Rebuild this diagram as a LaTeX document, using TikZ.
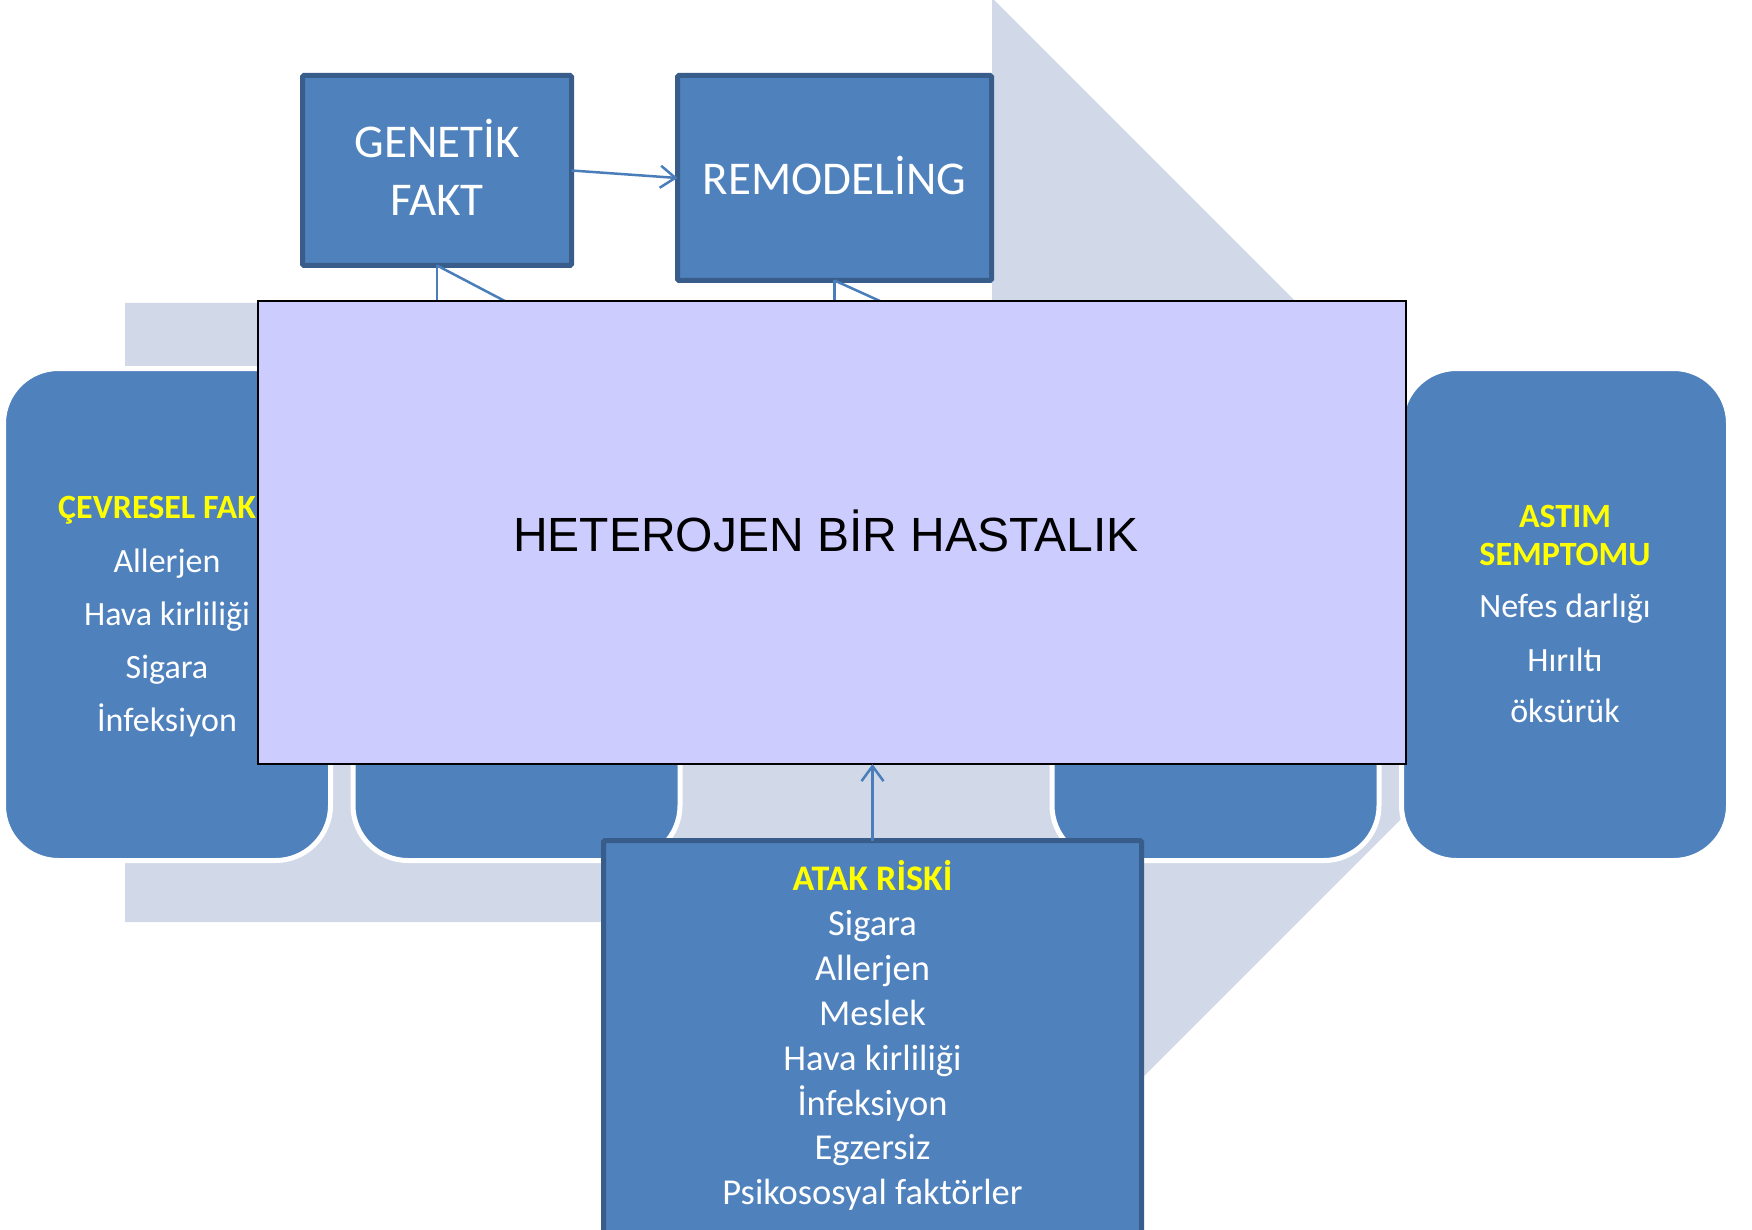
\documentclass[tikz,border=0pt]{standalone}
\usepackage{fontspec}
\setmainfont{Carlito}
\newfontfamily\arialfont{Liberation Sans}
\usetikzlibrary{arrows.meta}

\definecolor{boxblue}{HTML}{4F81BD}
\definecolor{boxedge}{HTML}{385D8A}
\definecolor{bandgray}{HTML}{D1D8E7}
\definecolor{linkblue}{HTML}{4A7EBB}
\definecolor{lilac}{HTML}{CCCCFF}
\definecolor{hdryellow}{HTML}{FFFF00}

\begin{document}
\begin{tikzpicture}[x=1pt,y=-1pt,
  squarebox/.style={draw=boxedge, fill=boxblue, line width=5pt, rounded corners=1.5pt, inner sep=0pt, outer sep=0pt},
  pillbox/.style={draw=white, fill=boxblue, line width=5pt, rounded corners=55pt, inner sep=0pt},
  conn/.style={draw=linkblue, line width=2.5pt},
  arr/.style={conn, -{Straight Barb[length=15pt,width=22pt]}},
  smalltxt/.style={text=white, font=\fontsize{34}{40}\selectfont, anchor=base, inner sep=0pt},
  smallhdr/.style={text=hdryellow, font=\fontsize{34}{40}\selectfont\bfseries, anchor=base, inner sep=0pt},
  midtxt/.style={text=white, font=\fontsize{36.5}{44}\selectfont, anchor=base, inner sep=0pt},
  midhdr/.style={text=hdryellow, font=\fontsize{36}{44}\selectfont\bfseries, anchor=base, inner sep=0pt},
  bigtxt/.style={text=white, font=\fontsize{47}{56}\selectfont, anchor=base, inner sep=0pt}
]
\useasboundingbox (0,0) rectangle (1752,1230);
\clip (0,0) rectangle (1752,1230);
\fill[white] (0,0) rectangle (1752,1230);

% broad background arrow
\fill[bandgray] (125,303) -- (992,303) -- (992,-2) -- (1607,613)
  -- (992,1228) -- (992,922) -- (125,922) -- cycle;

% rounded process boxes
\node[pillbox, minimum width=327pt, minimum height=492pt] (env) at (167,614.5) {};
\node[pillbox, minimum width=327pt, minimum height=492pt] (stepb) at (516.5,614.5) {};
\node[pillbox, minimum width=327pt, minimum height=492pt] (stepc) at (1215.5,614.5) {};
\node[pillbox, minimum width=327pt, minimum height=492pt] (sym) at (1565,614.5) {};

% environmental factors
\node[smallhdr, anchor=base west] (envh) at (58,518) {ÇEVRESEL FAK};
\node[smalltxt] (env1) at (167,572) {Allerjen};
\node[smalltxt] (env2) at (167,625) {Hava kirliliği};
\node[smalltxt] (env3) at (167,678) {Sigara};
\node[smalltxt] (env4) at (167,731) {İnfeksiyon};

% asthma symptoms
\node[smallhdr] (symh1) at (1565,527.5) {ASTIM};
\node[smallhdr] (symh2) at (1565,565) {SEMPTOMU};
\node[smalltxt] (sym1) at (1565,617) {Nefes darlığı};
\node[smalltxt] (sym2) at (1565,671) {Hırıltı};
\node[smalltxt] (sym3) at (1565,722) {öksürük};

% top boxes
\node[squarebox, minimum width=269pt, minimum height=190pt] (gen) at (437,170.5) {};
\node[squarebox, minimum width=314pt, minimum height=205pt] (rem) at (834.5,178) {};
\node[bigtxt] (gent1) at (437,158) {GENETİK};
\node[bigtxt] (gent2) at (437,216) {FAKT};
\node[bigtxt] (remt) at (834.5,195) {REMODELİNG};

\draw[arr] (gen.east) -- (rem.west);

% links running down behind the central panel
\coordinate (genv) at (437,330);
\coordinate (gend) at (541,320);
\coordinate (remv) at (834.5,330);
\coordinate (remd) at (922,320);
\draw[conn] (gen.south) -- (genv);
\draw[conn] (gen.south) -- (gend);
\draw[conn] (rem.south) -- (remv);
\draw[conn] (rem.south) -- (remd);

% central panel
\node[draw=black, fill=lilac, line width=2.5pt, inner sep=0pt, outer sep=0pt,
  minimum width=1148pt, minimum height=463pt] (center) at (832,532.5) {};
\node[anchor=base, inner sep=0pt, text=black, font=\arialfont\fontsize{48}{56}\selectfont]
  (centert) at (826,551) {HETEROJEN BİR HASTALIK};

% attack risk box
\node[squarebox, minimum width=538pt, minimum height=420pt] (atak) at (872.5,1050.5) {};
\node[midhdr] (atakh) at (872.5,890) {ATAK RİSKİ};
\node[midtxt] (atak1) at (872.5,935) {Sigara};
\node[midtxt] (atak2) at (872.5,980) {Allerjen};
\node[midtxt] (atak3) at (872.5,1025) {Meslek};
\node[midtxt] (atak4) at (872.5,1070) {Hava kirliliği};
\node[midtxt] (atak5) at (872.5,1115) {İnfeksiyon};
\node[midtxt] (atak6) at (872.5,1159) {Egzersiz};
\node[midtxt] (atak7) at (872.5,1204) {Psikososyal faktörler};

\draw[arr] (atak.north) -- (atak.north |- center.south);
\end{tikzpicture}
\end{document}
